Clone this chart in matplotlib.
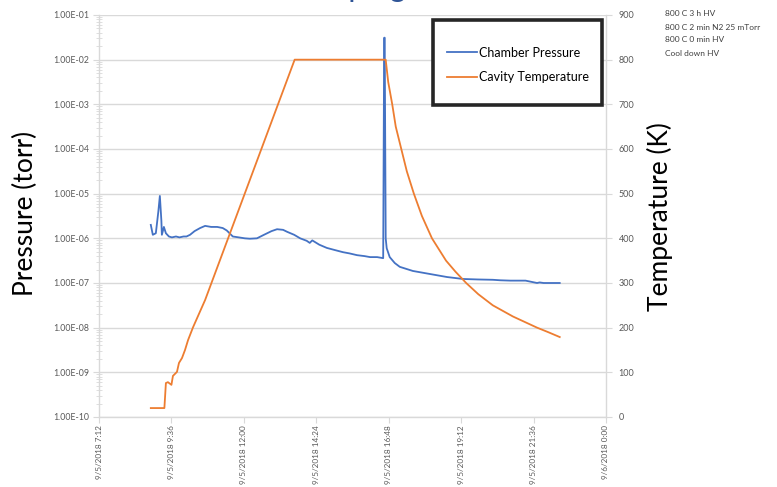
import datetime as dt
import matplotlib
matplotlib.use("Agg")
import matplotlib.pyplot as plt
import matplotlib.dates as mdates
from matplotlib.ticker import LogLocator, FixedLocator, NullFormatter, FuncFormatter
from matplotlib.patches import Rectangle

plt.rcParams['font.family'] = ['Lato', 'DejaVu Sans']

# chamber pressure (torr)
p_times = ["8:55", "8:59", "9:05", "9:10", "9:13", "9:16", "9:17", "9:21", "9:25", "9:31",
           "9:37", "9:45", "9:52", "10:00", "10:06", "10:13", "10:22", "10:33", "10:43",
           "10:55", "11:07", "11:18", "11:26", "11:38", "11:50", "12:02", "12:12", "12:26",
           "12:40", "12:55", "13:06", "13:18", "13:26", "13:40", "13:52", "14:05", "14:11",
           "14:16", "14:30", "14:45", "15:00", "15:17", "15:30", "15:45", "16:00", "16:11",
           "16:25", "16:37", "16:39", "16:40", "16:42", "16:44", "16:50", "17:00", "17:10",
           "17:36", "18:10", "18:44", "19:16", "19:45", "20:15", "20:30", "20:50", "21:20",
           "21:43", "21:48", "21:56", "22:05", "22:28"]
pressure = [2.0e-6, 1.2e-6, 1.3e-6, 4.0e-6, 8.9e-6, 2.5e-6, 1.2e-6, 1.8e-6, 1.3e-6, 1.1e-6,
            1.05e-6, 1.1e-6, 1.05e-6, 1.1e-6, 1.1e-6, 1.2e-6, 1.45e-6, 1.7e-6, 1.9e-6,
            1.8e-6, 1.8e-6, 1.7e-6, 1.5e-6, 1.1e-6, 1.05e-6, 1.0e-6, 9.8e-7, 1.0e-6,
            1.2e-6, 1.45e-6, 1.6e-6, 1.55e-6, 1.4e-6, 1.2e-6, 1.0e-6, 8.8e-7, 7.9e-7,
            9.0e-7, 7.2e-7, 6.1e-7, 5.5e-7, 4.9e-7, 4.6e-7, 4.2e-7, 4.0e-7, 3.8e-7,
            3.8e-7, 3.6e-7, 3.1e-2, 3.1e-2, 1.0e-6, 6.0e-7, 3.8e-7, 2.8e-7, 2.3e-7,
            1.86e-7, 1.59e-7, 1.36e-7, 1.23e-7, 1.2e-7, 1.18e-7, 1.15e-7, 1.13e-7, 1.13e-7,
            1.0e-7, 1.03e-7, 1.0e-7, 1.0e-7, 1.0e-7]

# cavity temperature (K)
t_times = ["8:55", "9:22", "9:25", "9:29", "9:36", "9:39", "9:47", "9:51", "9:57", "10:03",
           "10:09", "10:19", "10:43", "13:41", "16:42", "16:47", "16:55", "17:02", "17:13",
           "17:24", "17:38", "17:54", "18:14", "18:42", "19:01", "19:22", "19:46", "20:15",
           "20:55", "21:43", "22:05", "22:28"]
temperature = [20, 20, 76, 78, 72, 92, 101, 121, 132, 150,
               172, 201, 262, 800, 800, 750, 700, 650, 600,
               550, 500, 450, 400, 350, 325, 300, 275, 250,
               225, 200, 190, 179]

notes = ["800 C 3 h HV", "800 C 2 min N2 25 mTorr", "800 C 0 min HV", "Cool down HV"]

day = dt.datetime(2018, 9, 5)


def to_dt(s):
    hh, mm = s.split(":")
    return day + dt.timedelta(hours=int(hh), minutes=int(mm))


px = [to_dt(s) for s in p_times]
tx = [to_dt(s) for s in t_times]

fig = plt.figure(figsize=(7.77, 4.87), dpi=100)
ax = fig.add_axes([99 / 777, 1 - 417 / 487, 507 / 777, 402 / 487])
ax2 = ax.twinx()

grid_c = "#d9d9d9"
tick_c = "#595959"

l1, = ax.plot(px, pressure, color="#4472c4", lw=1.3, label="Chamber Pressure")
l2, = ax2.plot(tx, temperature, color="#ed7d31", lw=1.3, label="Cavity Temperature")

ax.set_yscale("log")
ax.set_ylim(1e-10, 1e-1)
ax.yaxis.set_major_locator(LogLocator(base=10, numticks=20))
ax.yaxis.set_minor_locator(LogLocator(base=10, subs=range(2, 10), numticks=20))
ax.yaxis.set_minor_formatter(NullFormatter())
ax.yaxis.set_major_formatter(FuncFormatter(lambda v, p: "%.2E" % v))
ax.grid(True, axis="y", which="major", color=grid_c, lw=1)
ax.set_axisbelow(True)

x0 = day + dt.timedelta(hours=7, minutes=12)
xticks = [x0 + dt.timedelta(minutes=144 * i) for i in range(8)]
ax.set_xlim(xticks[0], xticks[-1])
ax.xaxis.set_major_locator(FixedLocator(mdates.date2num(xticks)))


def fmt_date(v, pos):
    d = mdates.num2date(v)
    return "%d/%d/%d %d:%02d" % (d.month, d.day, d.year, d.hour, d.minute)


ax.xaxis.set_major_formatter(FuncFormatter(fmt_date))
for lab in ax.get_xticklabels():
    lab.set_rotation(90)

ax2.set_ylim(0, 900)
ax2.set_yticks(range(0, 901, 100))

for a in (ax, ax2):
    for s in a.spines.values():
        s.set_visible(False)
ax.spines["left"].set_visible(True)
ax.spines["bottom"].set_visible(True)
ax2.spines["right"].set_visible(True)
for s in (ax.spines["left"], ax.spines["bottom"], ax2.spines["right"]):
    s.set_color(grid_c)
    s.set_linewidth(1)

ax.tick_params(axis="y", which="major", labelsize=6.3, colors=grid_c, labelcolor=tick_c, length=4, pad=3)
ax.tick_params(axis="y", which="minor", colors=grid_c, length=4, direction="inout")
ax.tick_params(axis="x", labelsize=5.9, colors=grid_c, labelcolor=tick_c, length=4, pad=2)
ax2.tick_params(axis="y", labelsize=6.5, colors=grid_c, labelcolor=tick_c, length=4, pad=5)

fig.text(25 / 777, 1 - 213 / 487, "Pressure (torr)", rotation=90, fontsize=19,
         va="center", ha="center", color="black")
fig.text(660 / 777, 1 - 217 / 487, "Temperature (K)", rotation=90, fontsize=19,
         va="center", ha="center", color="black")

for i, n in enumerate(notes):
    fig.text(665 / 777, 1 - (14 + 13 * i) / 487, n, fontsize=6, color="#404040", va="center")

# title, mostly cut off at the top of the image
fig.text(308 / 777, 1 + 3 / 487, "Doping", fontsize=22, color="#2f5597", va="baseline")

fig.patches.append(Rectangle((433 / 777, 1 - 105 / 487), 169 / 777, 85 / 487,
                             transform=fig.transFigure, facecolor="white",
                             edgecolor="#262626", lw=2.6, zorder=3))
fig.legend([l1, l2], ["Chamber Pressure", "Cavity Temperature"], loc="center",
           bbox_to_anchor=(518 / 777, 1 - 65 / 487), frameon=False, fontsize=9,
           labelspacing=1.0, handlelength=2.4, handletextpad=0.2).set_zorder(4)

fig.savefig("out.png", dpi=100)
